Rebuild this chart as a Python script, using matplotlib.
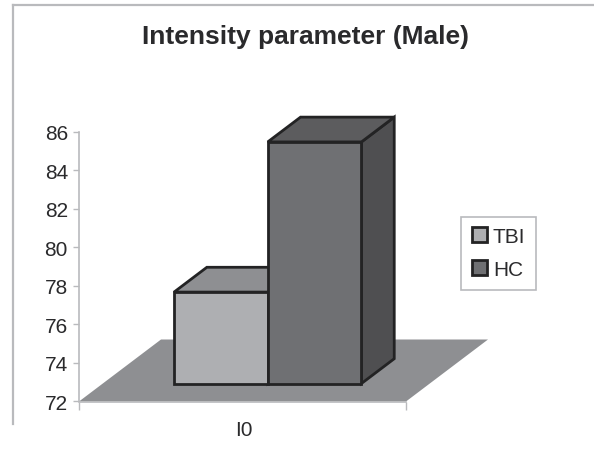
import matplotlib
matplotlib.use("Agg")
import matplotlib.pyplot as plt
from matplotlib.patches import Polygon, Patch
from matplotlib.lines import Line2D

plt.rcParams['font.family'] = ['Liberation Sans', 'DejaVu Sans']

title = "Intensity parameter (Male)"
categories = ["I0"]
series = ["TBI", "HC"]
values = [76.75, 84.55]
yticks = [72, 74, 76, 78, 80, 82, 84, 86]

face = ["#aeafb2", "#6f7073"]
top = ["#8e8f92", "#5c5c5e"]
side = ["#76777a", "#4f4f51"]
edge = "#232324"
grey = "#b9babd"
floor_c = "#8e8f92"

W, H = 594, 452
fig = plt.figure(figsize=(W/100, H/100), dpi=100, facecolor="white")
ax = fig.add_axes([79/W, 1-402.5/H, 327/W, 269.5/H])
ax.set_xlim(0, 1)
ax.set_ylim(72, 86)
ax.patch.set_alpha(0)

# oblique depth: one full depth step in data units
DX, DY = 82/327, 62/19.25
def proj(x, y, d):
    return (x + d*DX, y + d*DY)

ax.add_patch(Polygon([proj(0,72,0), proj(1,72,0), proj(1,72,1), proj(0,72,1)],
                     closed=True, fc=floor_c, ec="none", clip_on=False, zorder=1))

x0, bw = 0.218, 0.2865
d0, d1 = 0.29, 0.69
lw = 2.0
for i, v in enumerate(values):
    xl, xr = x0 + i*bw, x0 + (i+1)*bw
    kw = dict(closed=True, ec=edge, lw=lw, joinstyle="miter", clip_on=False, zorder=3+i)
    ax.add_patch(Polygon([proj(xr,72,d0), proj(xr,72,d1), proj(xr,v,d1), proj(xr,v,d0)], fc=side[i], **kw))
    ax.add_patch(Polygon([proj(xl,v,d0), proj(xr,v,d0), proj(xr,v,d1), proj(xl,v,d1)], fc=top[i], **kw))
    ax.add_patch(Polygon([proj(xl,72,d0), proj(xr,72,d0), proj(xr,v,d0), proj(xl,v,d0)], fc=face[i], **kw))

for s in ("top", "right"):
    ax.spines[s].set_visible(False)
for s in ("left", "bottom"):
    ax.spines[s].set_color(grey)
    ax.spines[s].set_linewidth(1.2)
    ax.spines[s].set_zorder(2)

ax.set_yticks(yticks)
ax.tick_params(axis="y", length=4, width=1, color=grey, labelsize=15, labelcolor="#2a2a2c", pad=4)
ax.set_xticks([0, 1])
ax.set_xticklabels(["", ""])
ax.tick_params(axis="x", which="major", length=6, width=1, color=grey)
ax.set_xticks([0.505], minor=True)
ax.set_xticklabels(categories, minor=True)
ax.tick_params(axis="x", which="minor", length=0, labelsize=15, labelcolor="#2a2a2c", pad=13)

fig.text(306/W, 1-37/H, title, ha="center", va="center", fontsize=19, fontweight="bold", color="#2a2a2c")

handles = [Patch(fc=face[i], ec=edge, lw=2.0, label=series[i]) for i in range(2)]
leg = fig.legend(handles=handles, loc="center", bbox_to_anchor=(498.5/W, 1-254/H), fontsize=15,
                 frameon=True, fancybox=False, edgecolor=grey, facecolor="white", framealpha=1,
                 handlelength=0.72, handleheight=0.72, handletextpad=0.3, labelspacing=0.68,
                 borderpad=0.5, borderaxespad=0, labelcolor="#2a2a2c")
leg.get_frame().set_linewidth(1.2)

fig.add_artist(Line2D([13/W, 13/W], [1-425/H, 1-6/H], color=grey, lw=1.6, transform=fig.transFigure))
fig.add_artist(Line2D([13/W, 1], [1-6/H, 1-6/H], color=grey, lw=1.6, transform=fig.transFigure))

fig.savefig("out.png", dpi=100)
